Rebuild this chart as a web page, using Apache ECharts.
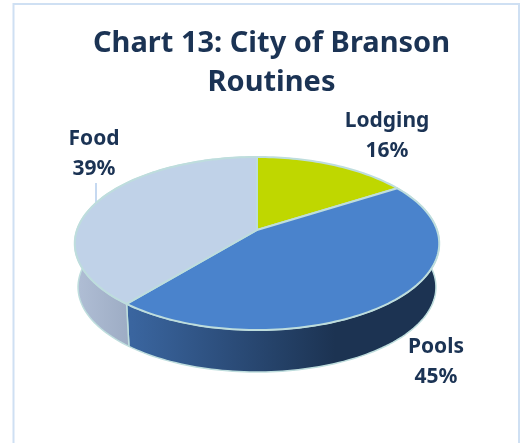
<!DOCTYPE html>
<html><head><meta charset="utf-8">
<style>html,body{margin:0;padding:0;background:#fff}#c{width:520px;height:443px}</style>
<script src="https://cdn.jsdelivr.net/npm/echarts@6/dist/echarts.min.js"></script>
</head><body><div id="c"></div>
<script>
const categories = ['Lodging', 'Pools', 'Food'];
const shares = [16, 45, 39];
const topColors = ['#BFD700', '#4A83CC', '#C0D2E8'];
const sideStops = [
  [],
  [[0, '#3A659F'], [0.66, '#1C3352'], [1, '#1C3352']],
  [[0, '#B0BED5'], [1, '#9CABC3']]
];
const labelAnchors = [[387, 136], [436, 362], [94, 154]];
const title = 'Chart 13: City of Branson\nRoutines';

const ink = '#1B3354', rimColor = '#BEDDDD';
const total = shares.reduce((a, b) => a + b, 0);
const bounds = []; let run = 0;
shares.forEach(v => { bounds.push([run / total, (run + v) / total]); run += v; });

/* perspective projection of the unit disc: the apex sits above the ellipse's centre */
const k = 0.156, R = 180, A = 84.4, cx = 257;
function project(t, r, level) {
  const a = t * 2 * Math.PI, u = r * Math.sin(a), v = -r * Math.cos(a), d = 1 - k * v;
  const s = level ? 0.982 : 1, y0 = level ? 273.8 : 230;
  return [cx + s * R * u / d, y0 + s * A * v / d];
}
function arc(t0, t1, level) {
  const n = Math.max(2, Math.ceil((t1 - t0) * 240)), p = [];
  for (let i = 0; i <= n; i++) p.push(project(t0 + (t1 - t0) * i / n, 1, level));
  return p;
}
const seriesData = categories.map((c, i) => ({ name: c, value: shares[i] }));
const chart = echarts.init(document.getElementById('c'), null, { renderer: 'canvas' });
chart.setOption({
  animation: false,
  backgroundColor: '#fff',
  title: {
    text: title, left: 266.5, top: 19, textAlign: 'center',
    textStyle: { fontFamily: 'Noto Sans', fontWeight: 'bold', fontSize: 29, lineHeight: 39, color: ink }
  },
  graphic: [
    { type: 'polyline', shape: { points: [[13.5, 443], [13.5, 4], [519, 4], [519, 443]] }, style: { stroke: '#CFE0F3', lineWidth: 2, fill: null }, silent: true },
    { type: 'line', shape: { x1: 96, y1: 183, x2: 96, y2: 204 }, style: { stroke: '#8DB3E2', lineWidth: 1 }, silent: true }
  ],
  series: [
    { type: 'custom', coordinateSystem: 'none', data: seriesData, z: 2,
      renderItem(params) {
        const i = params.dataIndex, [t0, t1] = bounds[i];
        if (i === 0) return { type: 'group', children: [] };
        const pts = arc(t0, t1, 0).concat(arc(t0, t1, 1).reverse());
        const left = i === 1 ? 132 : 76, right = i === 1 ? 440 : 132;
        const stops = sideStops[i].map(s => ({ offset: s[0], color: s[1] }));
        const grad = new echarts.graphic.LinearGradient(left, 0, right, 0, stops, true);
        return { type: 'polygon', shape: { points: pts }, style: { fill: grad, stroke: rimColor, lineWidth: 1.5, lineJoin: 'round' } };
      }
    },
    { type: 'custom', coordinateSystem: 'none', data: seriesData, z: 3,
      renderItem(params) {
        const i = params.dataIndex, [t0, t1] = bounds[i];
        const pts = [project(0, 0, 0)].concat(arc(t0, t1, 0));
        return { type: 'polygon', shape: { points: pts }, style: { fill: topColors[i], stroke: rimColor, lineWidth: 2, lineJoin: 'round' } };
      }
    },
    { type: 'custom', coordinateSystem: 'none', data: seriesData, z: 4,
      renderItem(params) {
        const i = params.dataIndex, p = labelAnchors[i];
        return { type: 'text', x: p[0], y: p[1], style: {
          text: categories[i] + '\n' + shares[i] + '%', align: 'center', verticalAlign: 'middle',
          fontFamily: 'Noto Sans', fontWeight: 'bold', fontSize: 21, lineHeight: 30, fill: ink } };
      }
    }
  ]
});
</script></body></html>
